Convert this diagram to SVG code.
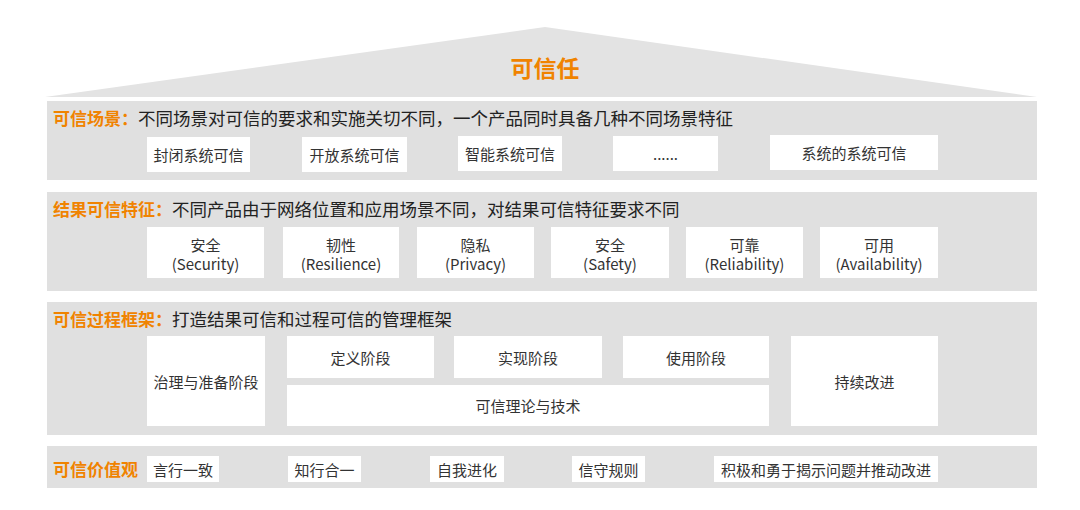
<svg xmlns="http://www.w3.org/2000/svg" width="1080" height="510" viewBox="0 0 1080 510">
<style>
.band{fill:#e0e0e0}
.box{fill:#ffffff}
.h{font-family:"Noto Sans CJK SC","Noto Sans",sans-serif;font-size:17px;font-weight:bold;fill:#f08300}
.d{font-family:"Noto Sans CJK SC","Noto Sans",sans-serif;font-size:17.5px;fill:#222222}
.t{font-family:"Noto Sans CJK SC","Noto Sans",sans-serif;font-size:15px;fill:#333333;text-anchor:middle;dominant-baseline:central}
</style>
<rect width="1080" height="510" fill="#ffffff"/>
<g id="roof">
<polygon points="45,97 545,27 1037,97" fill="#e3e3e3"/>
<text x="545" y="67" font-family="'Noto Sans CJK SC','Noto Sans',sans-serif" font-size="23" font-weight="bold" fill="#f08300" text-anchor="middle" dominant-baseline="central">可信任</text>
</g>
<g id="scenarios">
<rect class="band" x="47" y="101" width="990" height="79"/>
<text x="53" y="117" dominant-baseline="central"><tspan class="h">可信场景：</tspan><tspan class="d">不同场景对可信的要求和实施关切不同，一个产品同时具备几种不同场景特征</tspan></text>
<g id="s1"><rect class="box" x="147" y="137" width="103" height="35"/><text class="t" x="198.5" y="154.5">封闭系统可信</text></g>
<g id="s2"><rect class="box" x="302" y="137" width="105" height="35"/><text class="t" x="354.5" y="154.5">开放系统可信</text></g>
<g id="s3"><rect class="box" x="458" y="136" width="104" height="35"/><text class="t" x="510" y="153.5">智能系统可信</text></g>
<g id="s4"><rect class="box" x="613" y="136" width="105" height="35"/><text class="t" x="665.5" y="153.5">......</text></g>
<g id="s5"><rect class="box" x="770" y="135" width="168" height="35"/><text class="t" x="854" y="152.5">系统的系统可信</text></g>
</g>
<g id="features">
<rect class="band" x="47" y="192" width="990" height="99"/>
<text x="53" y="208" dominant-baseline="central"><tspan class="h">结果可信特征：</tspan><tspan class="d">不同产品由于网络位置和应用场景不同，对结果可信特征要求不同</tspan></text>
<g id="f1"><rect class="box" x="147" y="227" width="117" height="51"/><text class="t" x="205.5" y="244">安全</text><text class="t" x="205.5" y="263">(Security)</text></g>
<g id="f2"><rect class="box" x="283" y="227" width="116" height="51"/><text class="t" x="341" y="244">韧性</text><text class="t" x="341" y="263">(Resilience)</text></g>
<g id="f3"><rect class="box" x="417" y="227" width="117" height="51"/><text class="t" x="475.5" y="244">隐私</text><text class="t" x="475.5" y="263">(Privacy)</text></g>
<g id="f4"><rect class="box" x="551" y="227" width="118" height="51"/><text class="t" x="610" y="244">安全</text><text class="t" x="610" y="263">(Safety)</text></g>
<g id="f5"><rect class="box" x="686" y="227" width="117" height="51"/><text class="t" x="744.5" y="244">可靠</text><text class="t" x="744.5" y="263">(Reliability)</text></g>
<g id="f6"><rect class="box" x="820" y="227" width="118" height="51"/><text class="t" x="879" y="244">可用</text><text class="t" x="879" y="263">(Availability)</text></g>
</g>
<g id="process">
<rect class="band" x="47" y="302" width="990" height="133"/>
<text x="53" y="318" dominant-baseline="central"><tspan class="h">可信过程框架：</tspan><tspan class="d">打造结果可信和过程可信的管理框架</tspan></text>
<g id="p1"><rect class="box" x="147" y="336" width="118" height="90"/><text class="t" x="206" y="381">治理与准备阶段</text></g>
<g id="p2"><rect class="box" x="287" y="336" width="147" height="42"/><text class="t" x="360.5" y="357">定义阶段</text></g>
<g id="p3"><rect class="box" x="454" y="336" width="148" height="42"/><text class="t" x="528" y="357">实现阶段</text></g>
<g id="p4"><rect class="box" x="623" y="336" width="146" height="42"/><text class="t" x="696" y="357">使用阶段</text></g>
<g id="p5"><rect class="box" x="287" y="385" width="482" height="41"/><text class="t" x="528" y="405.5">可信理论与技术</text></g>
<g id="p6"><rect class="box" x="791" y="336" width="147" height="90"/><text class="t" x="864.5" y="381">持续改进</text></g>
</g>
<g id="values">
<rect class="band" x="47" y="446" width="990" height="42"/>
<text class="h" x="53" y="468" dominant-baseline="central">可信价值观</text>
<g id="v1"><rect class="box" x="147" y="456" width="72" height="26"/><text class="t" x="183" y="469">言行一致</text></g>
<g id="v2"><rect class="box" x="288" y="456" width="73" height="26"/><text class="t" x="324.5" y="469">知行合一</text></g>
<g id="v3"><rect class="box" x="430" y="456" width="74" height="26"/><text class="t" x="467" y="469">自我进化</text></g>
<g id="v4"><rect class="box" x="572" y="456" width="73" height="26"/><text class="t" x="608.5" y="469">信守规则</text></g>
<g id="v5"><rect class="box" x="714" y="456" width="224" height="26"/><text class="t" x="826" y="469">积极和勇于揭示问题并推动改进</text></g>
</g>
<g id="connectors"/>
</svg>
